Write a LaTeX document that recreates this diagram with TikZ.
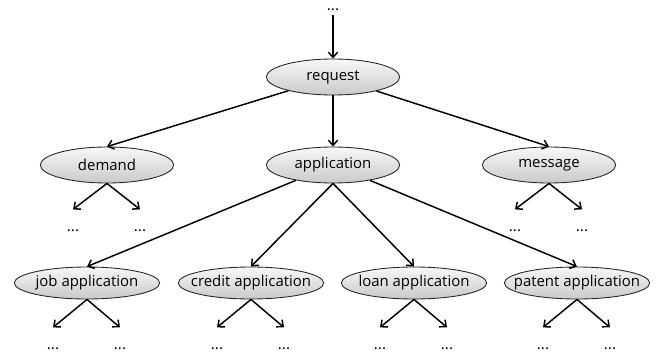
\documentclass[tikz,border=0pt]{standalone}
\usepackage{fontspec}
\setmainfont{Open Sans}
\usetikzlibrary{shapes.geometric,positioning,calc,arrows.meta}

\tikzset{
    sense/.style={ellipse, draw=black!85, line width=0.65pt, inner sep=0pt,
        top color=gray!6, bottom color=gray!42,
        minimum width=100pt, minimum height=27pt, font=\fontsize{11.2}{13}\selectfont},
    subsense/.style={sense, inner xsep=-10pt, minimum width=109pt, minimum height=24pt},
    more/.style={inner sep=0pt, text height=16pt, text depth=0pt, anchor=base,
        font=\fontsize{11.5}{13}\selectfont},
    link/.style={line width=1.1pt, -{Straight Barb[length=4pt,width=7pt]}}
}

\begin{document}
\begin{tikzpicture}[x=0.75pt, y=-0.75pt]
    \useasboundingbox (0,0) rectangle (660,357);

    % Senses, top to bottom
    \node [more, text height=6pt, text depth=3pt] (up) at (333,11) {...};
    \node [sense] (request) at (333,77) {request};

    \node [sense] (demand) at (107,165) {demand};
    \node [sense] (application) at (333,165) {application};
    \node [sense] (message) at (549,165) {message};

    \node [subsense] (job) at (87,283) {job application};
    \node [subsense] (credit) at (251,283) {credit application};
    \node [subsense] (loan) at (414,283) {loan application};
    \node [subsense] (patent) at (577,283) {patent application};

    % Links between senses
    \draw [link] (up) -- (request.north);
    \draw [link] (request) -- (demand.north);
    \draw [link] (request.south) -- (application.north);
    \draw [link] (request) -- (message.north);

    \draw [link] (application) -- (job.north);
    \draw [link] (application.south) -- (credit.north);
    \draw [link] (application.south) -- (loan.north);
    \draw [link] (application) -- (patent.north);

    % Open ends below each sense
    \foreach \p in {demand, message, job, credit, loan, patent} {
        \node [more] (\p-l) at ($(\p.center)+(-34,66)$) {...};
        \node [more] (\p-r) at ($(\p.center)+(33,66)$) {...};
        \draw [link] (\p.south) -- (\p-l.north);
        \draw [link] (\p.south) -- (\p-r.north);
    }
\end{tikzpicture}
\end{document}
